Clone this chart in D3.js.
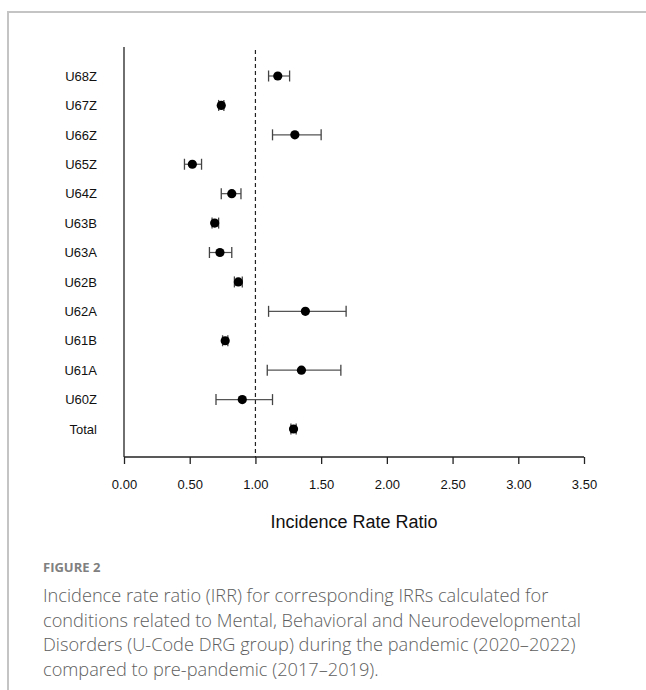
<!DOCTYPE html>
<html>
<head>
<meta charset="utf-8">
<script src="https://cdn.jsdelivr.net/npm/d3@7"></script>
<style>
  html, body { margin: 0; padding: 0; background: #fff; }
  svg { display: block; }
</style>
</head>
<body>
<svg id="chart" width="646" height="690"></svg>
<script>
// ---- Data ----
const categories = ["U68Z","U67Z","U66Z","U65Z","U64Z","U63B","U63A","U62B","U62A","U61B","U61A","U60Z","Total"];
const irr   = [1.17, 0.74, 1.30, 0.52, 0.82, 0.69, 0.73, 0.87, 1.38, 0.77, 1.35, 0.90, 1.29];
const lower = [1.10, 0.72, 1.13, 0.46, 0.74, 0.67, 0.65, 0.84, 1.10, 0.75, 1.09, 0.70, 1.27];
const upper = [1.26, 0.76, 1.50, 0.59, 0.89, 0.72, 0.82, 0.90, 1.69, 0.79, 1.65, 1.13, 1.31];
const xTicks = [0, 0.5, 1, 1.5, 2, 2.5, 3, 3.5];
const refValue = 1;
const axisTitle = "Incidence Rate Ratio";
const figLabel = "FIGURE 2";
const captionLines = [
  "Incidence rate ratio (IRR) for corresponding IRRs calculated for",
  "conditions related to Mental, Behavioral and Neurodevelopmental",
  "Disorders (U-Code DRG group) during the pandemic (2020\u20132022)",
  "compared to pre-pandemic (2017\u20132019)."
];

const rows = categories.map((c, i) => ({cat: c, est: irr[i], lo: lower[i], hi: upper[i]}));

const svg = d3.select("#chart");

// frame
svg.append("path")
  .attr("d", "M8,690 L8,12 L646,12")
  .attr("fill", "none")
  .attr("stroke", "#c4c4c4")
  .attr("stroke-width", 2);

const x = d3.scaleLinear().domain([0, 3.5]).range([124, 584]);
const y = d3.scalePoint().domain(categories).range([76, 429]);
const axisY = 457;
const topY = 47;

const g = svg.append("g").attr("font-family", "'Liberation Sans', Arial, sans-serif");

// left vertical line
g.append("line")
  .attr("x1", x(0)).attr("x2", x(0))
  .attr("y1", topY).attr("y2", axisY)
  .attr("stroke", "#222").attr("stroke-width", 1.3);

// reference dashed line
g.append("line")
  .attr("x1", x(refValue)).attr("x2", x(refValue))
  .attr("y1", topY + 3).attr("y2", axisY)
  .attr("stroke", "#222").attr("stroke-width", 1.2)
  .attr("stroke-dasharray", "4,3");

// x axis
const xAxis = d3.axisBottom(x)
  .tickValues(xTicks)
  .tickFormat(d3.format(".2f"))
  .tickSize(7)
  .tickPadding(16);
const ax = g.append("g")
  .attr("transform", `translate(0,${axisY})`)
  .call(xAxis);
ax.select(".domain").attr("stroke", "#222").attr("stroke-width", 1.3)
  .attr("d", `M${x(0)},0H${x(3.5)}`);
ax.selectAll(".tick line").attr("stroke", "#222").attr("stroke-width", 1.3);
ax.selectAll(".tick text")
  .attr("font-family", "'Liberation Sans', Arial, sans-serif")
  .attr("font-size", 13).attr("fill", "#111");

// axis title
g.append("text")
  .attr("x", (x(0) + x(3.5)) / 2)
  .attr("y", 528)
  .attr("text-anchor", "middle")
  .attr("font-size", 18)
  .attr("fill", "#111")
  .text(axisTitle);

// category labels
g.selectAll("text.cat").data(rows).join("text")
  .attr("class", "cat")
  .attr("x", 97)
  .attr("y", d => y(d.cat))
  .attr("dy", "0.36em")
  .attr("text-anchor", "end")
  .attr("font-size", 13)
  .attr("fill", "#111")
  .text(d => d.cat);

// error bars
const capH = 5.5;
const eb = g.selectAll("g.eb").data(rows).join("g").attr("class", "eb");
eb.append("line")
  .attr("x1", d => x(d.lo)).attr("x2", d => x(d.hi))
  .attr("y1", d => y(d.cat)).attr("y2", d => y(d.cat))
  .attr("stroke", "#555").attr("stroke-width", 1.2);
eb.append("line")
  .attr("x1", d => x(d.lo)).attr("x2", d => x(d.lo))
  .attr("y1", d => y(d.cat) - capH).attr("y2", d => y(d.cat) + capH)
  .attr("stroke", "#444").attr("stroke-width", 1.3);
eb.append("line")
  .attr("x1", d => x(d.hi)).attr("x2", d => x(d.hi))
  .attr("y1", d => y(d.cat) - capH).attr("y2", d => y(d.cat) + capH)
  .attr("stroke", "#444").attr("stroke-width", 1.3);
eb.append("circle")
  .attr("cx", d => x(d.est)).attr("cy", d => y(d.cat))
  .attr("r", 4.6).attr("fill", "#000");

// caption
svg.append("text")
  .attr("x", 43).attr("y", 572)
  .attr("font-family", "'Open Sans', sans-serif")
  .attr("font-weight", 700)
  .attr("font-size", 13)
  .attr("fill", "#808080")
  .text(figLabel);

svg.selectAll("text.cap").data(captionLines).join("text")
  .attr("class", "cap")
  .attr("x", 43)
  .attr("y", (d, i) => 602 + i * 24.5)
  .attr("font-family", "'Open Sans', sans-serif")
  .attr("font-weight", 300)
  .attr("font-size", 18.2)
  .attr("fill", "#5e5e5e")
  .text(d => d);
</script>
</body>
</html>
